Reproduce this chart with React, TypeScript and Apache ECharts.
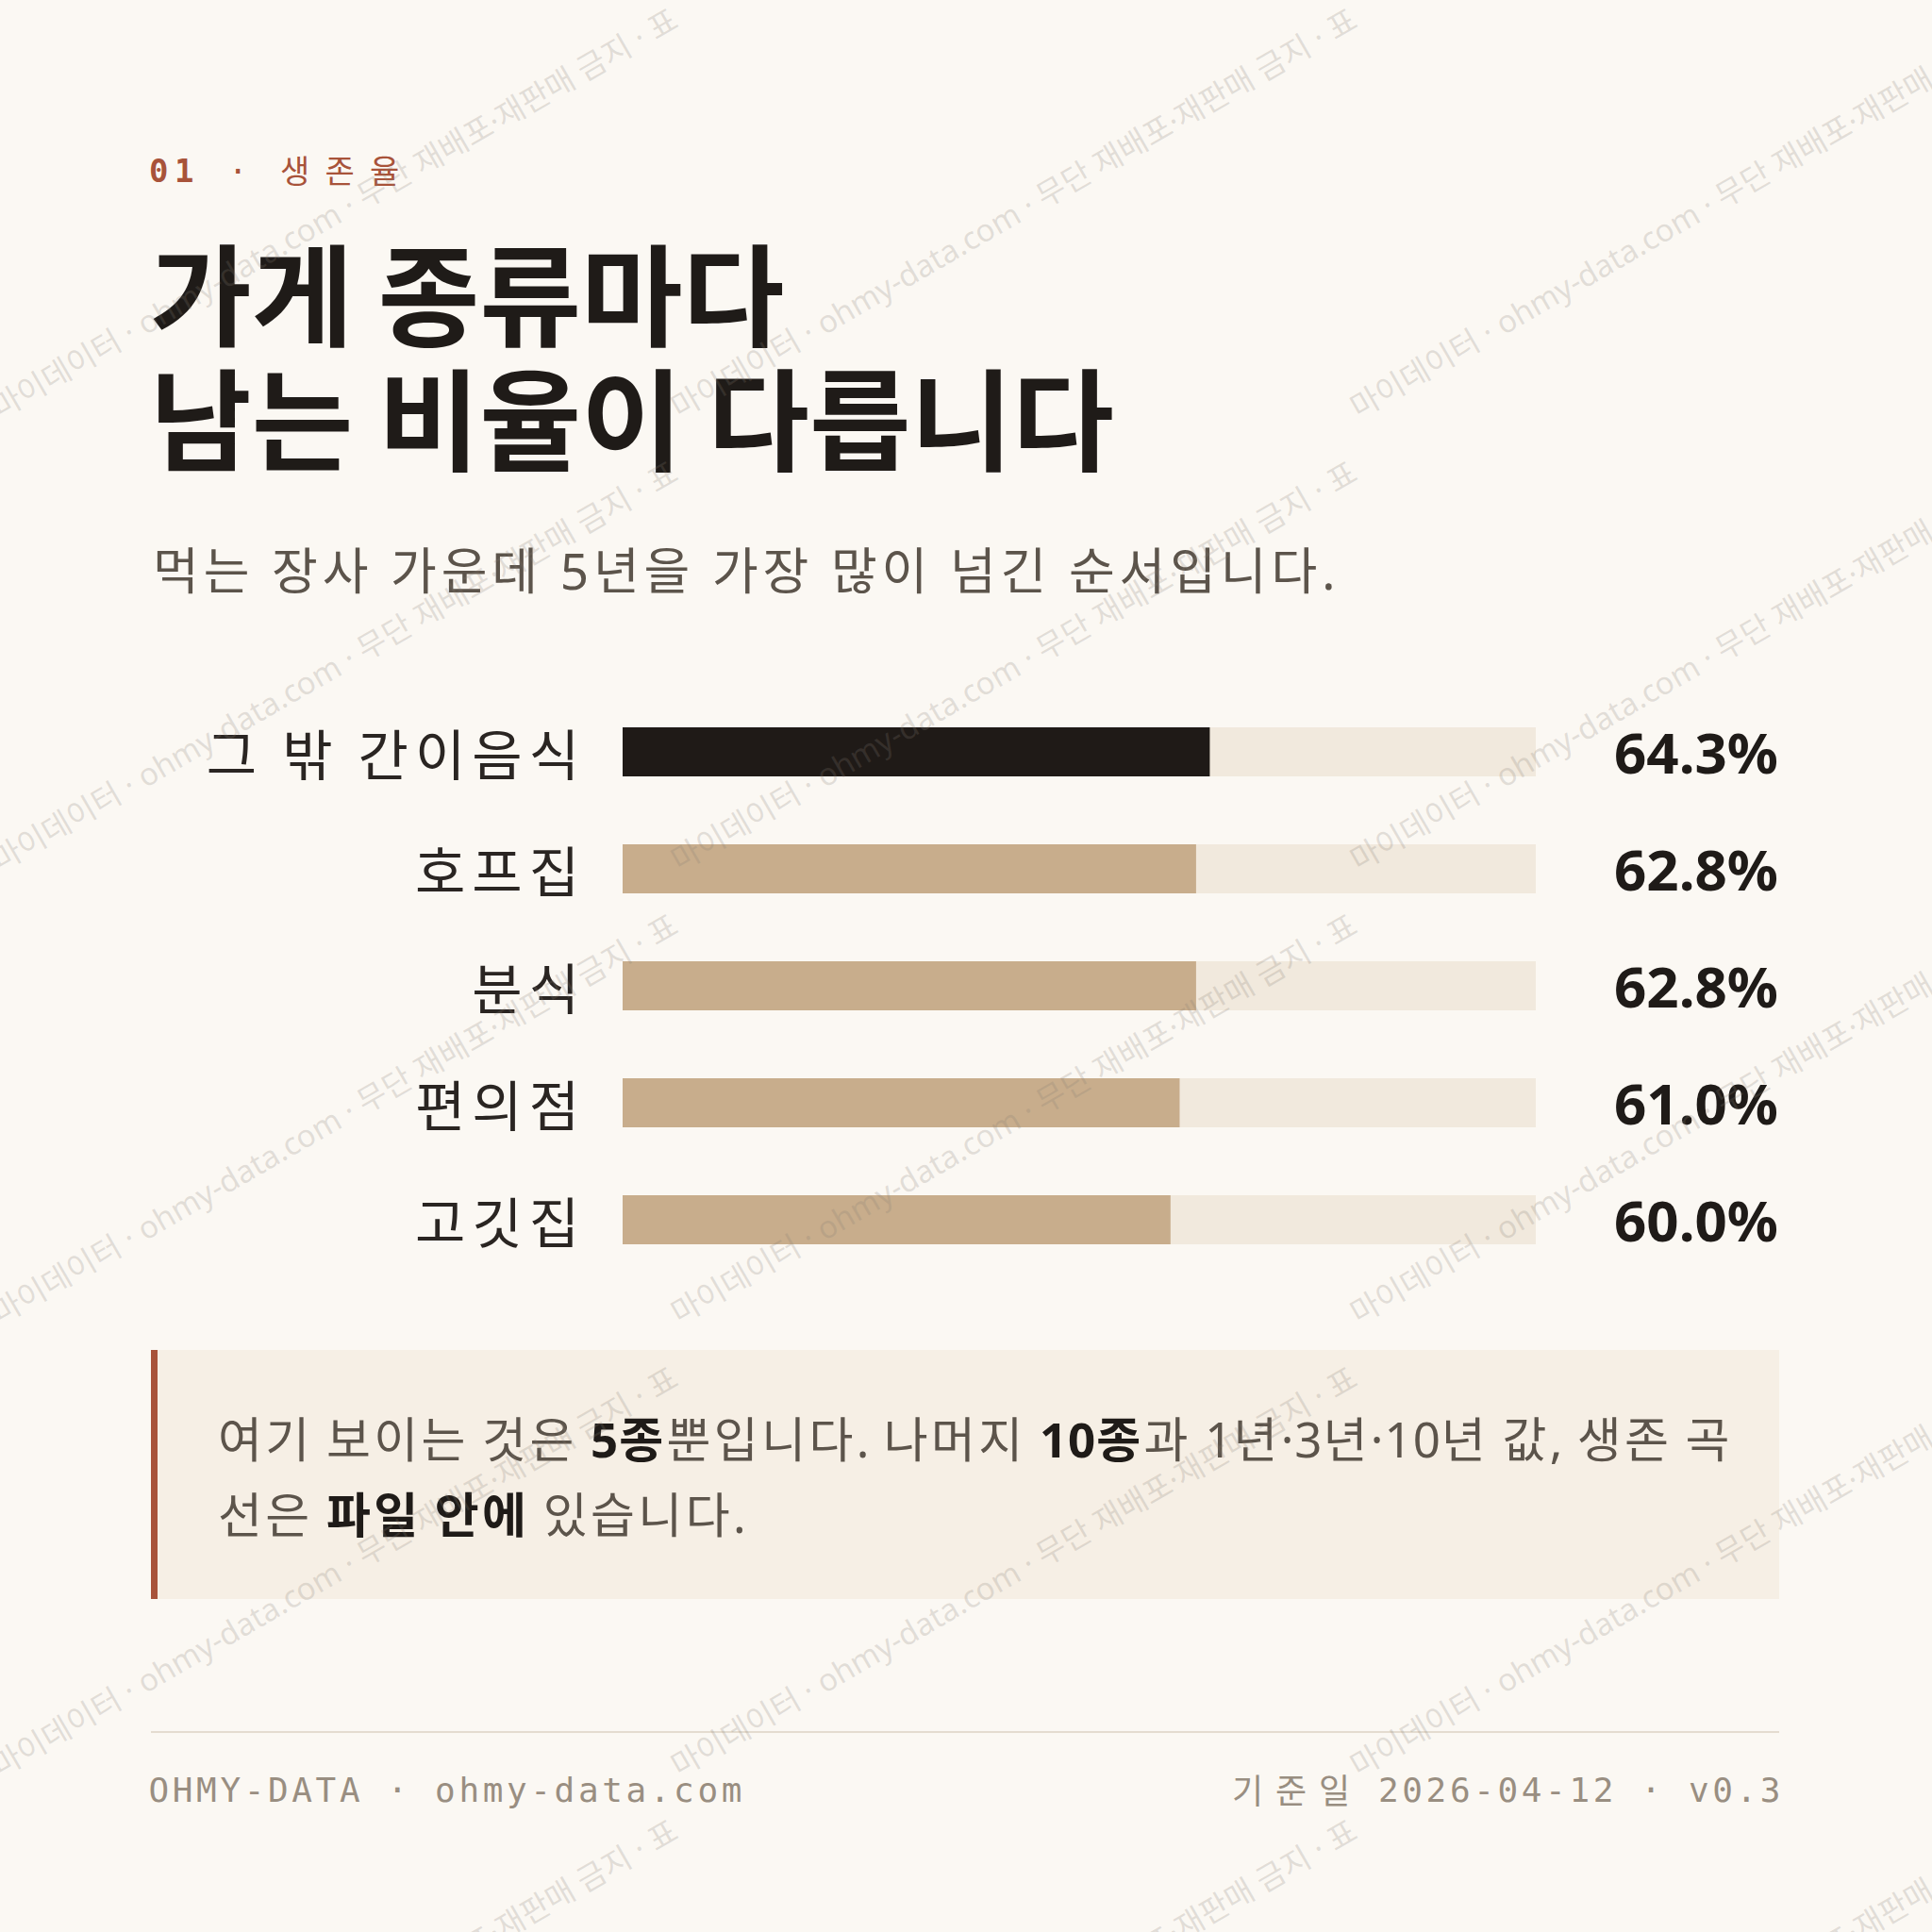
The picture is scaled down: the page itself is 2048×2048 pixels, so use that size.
import { useEffect, useRef } from 'react';
import * as echarts from 'echarts';

// chart data
const categories = ['그 밖 간이음식', '호프집', '분식', '편의점', '고깃집'];
const survivalRates = [64.3, 62.8, 62.8, 61.0, 60.0];
const highlightIndex = 0;
const axisMax = 100;

// texts
const eyebrowNum = '01';
const eyebrowLabel = '생존율';
const titleLines = ['가게 종류마다', '남는 비율이 다릅니다'];
const subtitle = '먹는 장사 가운데 5년을 가장 많이 넘긴 순서입니다.';
// [text, bold]
const noteLines: [string, boolean][][] = [
  [['여기 보이는 것은 ', false], ['5종', true], ['뿐입니다. 나머지 ', false], ['10종', true], ['과 1년·3년·10년 값, 생존 곡', false]],
  [['선은 ', false], ['파일 안에', true], [' 있습니다.', false]],
];
const footerLeft = 'OHMY-DATA · ohmy-data.com';
const footerDateLabel = '기준일';
const footerDate = '2026-04-12 · v0.3';
const watermarkText = '마이데이터 · ohmy-data.com · 무단 재배포·재판매 금지 · 표';

const SANS = "'Noto Sans', 'Noto Sans CJK KR', sans-serif";
const KR = "'Noto Sans CJK KR', 'Noto Sans', sans-serif";
const MONO = "'DejaVu Sans Mono', 'Noto Sans CJK KR', monospace";

const C = {
  bg: '#FBF8F3',
  accent: '#A8533A',
  ink: '#1F1B18',
  sub: '#5C544B',
  label: '#2A2522',
  track: '#F1E9DD',
  tan: '#C8AD8C',
  dark: '#1F1A17',
  noteBg: '#F6EFE5',
  rule: '#E4DCD0',
  footer: '#998E81',
  mark: 'rgba(135, 125, 115, 0.22)',
};

let measureCtx: CanvasRenderingContext2D | null = null;
const textWidth = (s: string, size: number, family: string, weight = 'normal') => {
  if (!measureCtx) measureCtx = document.createElement('canvas').getContext('2d');
  measureCtx!.font = `${weight} ${size}px ${family}`;
  return measureCtx!.measureText(s).width;
};

const isHangul = (ch: string) => /[\uAC00-\uD7A3]/.test(ch);

type Run = { text: string; size: number; family: string; weight?: string; fill: string };

// letter-spaced text: one element per character, widths measured
const layoutRuns = (
  runs: Run[], x: number, y: number,
  spacing: number | ((ch: string) => number),
  align: 'left' | 'right' = 'left',
) => {
  const gap = typeof spacing === 'function' ? spacing : () => spacing;
  const chars = runs.flatMap((r) => Array.from(r.text).map((ch) => ({ ch, r })));
  const widths = chars.map(({ ch, r }) => textWidth(ch, r.size, r.family, r.weight));
  const total = widths.reduce((a, b, i) => a + b + (i < chars.length - 1 ? gap(chars[i].ch) : 0), 0);
  let cx = align === 'right' ? x - total : x;
  return chars.map(({ ch, r }, i) => {
    const el = {
      type: 'text',
      x: cx,
      y,
      style: {
        text: ch, fontSize: r.size, fontFamily: r.family, fontWeight: r.weight || 'normal',
        fill: r.fill, textAlign: 'left', textVerticalAlign: 'middle',
      },
    };
    cx += widths[i] + gap(ch);
    return el;
  });
};

// fixed-step text (monospace with tracking)
const spaced = (str: string, x0: number, y: number, step: number, style: any) =>
  Array.from(str).map((ch, i) => ({
    type: 'text',
    x: x0 + i * step,
    y,
    style: { text: ch, textAlign: 'left', textVerticalAlign: 'middle', ...style },
  }));

const buildWatermark = () => {
  const out: any[] = [];
  for (let r = 0; r < 5; r++) {
    for (let c = 0; c < 3; c++) {
      out.push({
        type: 'text',
        x: c * 720 + 2,
        y: r * 480 + 448,
        rotation: Math.PI / 6,
        z: 100,
        silent: true,
        style: {
          text: watermarkText, fontSize: 33, fontFamily: SANS, fill: C.mark,
          textAlign: 'left', textVerticalAlign: 'bottom',
        },
      });
    }
  }
  return out;
};

export default function App() {
  const ref = useRef<HTMLDivElement>(null);

  useEffect(() => {
    if (!ref.current) return;
    const chart = echarts.init(ref.current, null, { renderer: 'svg' });

    chart.setOption({
      animation: false,
      backgroundColor: C.bg,
      grid: { left: 660, right: 420, top: 735, bottom: 693, containLabel: false },
      xAxis: { type: 'value', min: 0, max: axisMax, show: false },
      yAxis: [
        {
          type: 'category',
          inverse: true,
          data: categories,
          axisLine: { show: false },
          axisTick: { show: false },
          axisLabel: { show: false },
        },
        {
          type: 'category',
          inverse: true,
          position: 'right',
          data: survivalRates.map((v) => v.toFixed(1) + '%'),
          axisLine: { show: false },
          axisTick: { show: false },
          axisLabel: { fontSize: 60, fontWeight: 'bold', color: C.ink, fontFamily: SANS, margin: 257, align: 'right' },
        },
      ],
      series: [
        {
          type: 'bar',
          barWidth: 52,
          showBackground: true,
          backgroundStyle: { color: C.track },
          data: survivalRates.map((v, i) => ({
            value: v,
            itemStyle: { color: i === highlightIndex ? C.dark : C.tan },
          })),
        },
      ],
    });

    // category labels, tracked, placed on the axis positions
    const labelRight = (chart.convertToPixel({ xAxisIndex: 0 }, 0) as number) - 46;
    const categoryLabels = categories.flatMap((name, i) => {
      const y = chart.convertToPixel({ yAxisIndex: 0 }, i) as number;
      return layoutRuns([{ text: name, size: 58, family: KR, fill: C.label }], labelRight, y, 7, 'right');
    });

    const graphic: any[] = [
      // eyebrow
      ...spaced(eyebrowNum, 158, 181, 27, { fontSize: 34, fontFamily: MONO, fontWeight: 'bold', fill: C.accent }),
      { type: 'text', x: 242, y: 181, style: { text: '·', fontSize: 34, fontFamily: MONO, fill: C.accent, textAlign: 'left', textVerticalAlign: 'middle' } },
      ...spaced(eyebrowLabel, 297, 179, 47.5, { fontSize: 34, fontFamily: KR, fill: C.accent }),
      // title
      ...titleLines.map((line, i) => ({
        type: 'text',
        x: 159,
        y: 307 + i * 132,
        style: { text: line, fontSize: 117, fontWeight: 'bold', fontFamily: KR, fill: C.ink, textAlign: 'left', textVerticalAlign: 'middle' },
      })),
      // subtitle
      ...layoutRuns([{ text: subtitle, size: 53, family: SANS, fill: C.sub }], 162, 604, 4.9),
      // note box
      { type: 'rect', shape: { x: 160, y: 1431, width: 1726, height: 264 }, style: { fill: C.noteBg } },
      { type: 'rect', shape: { x: 160, y: 1431, width: 7, height: 264 }, style: { fill: C.accent } },
      ...noteLines.flatMap((line, li) =>
        layoutRuns(
          line.map(([text, bold]) => ({
            text, size: 51, family: SANS, weight: bold ? 'bold' : 'normal', fill: bold ? C.ink : C.sub,
          })),
          231, 1525 + li * 80, (ch) => (isHangul(ch) ? 3.4 : 1),
        ),
      ),
      ...categoryLabels,
      // footer
      { type: 'line', shape: { x1: 160, y1: 1836, x2: 1886, y2: 1836 }, style: { stroke: C.rule, lineWidth: 2 } },
      ...spaced(footerLeft, 157.5, 1897, 25.3, { fontSize: 36, fontFamily: MONO, fill: C.footer }),
      ...spaced(footerDateLabel, 1306, 1896, 46, { fontSize: 36, fontFamily: KR, fill: C.footer }),
      ...spaced(footerDate, 1461, 1897, 25.3, { fontSize: 36, fontFamily: MONO, fill: C.footer }),
      ...buildWatermark(),
    ];

    chart.setOption({ graphic });

    return () => chart.dispose();
  }, []);

  return (
    <div
      ref={ref}
      style={{ position: 'absolute', left: 0, top: 0, width: 2048, height: 2048 }}
    />
  );
}
